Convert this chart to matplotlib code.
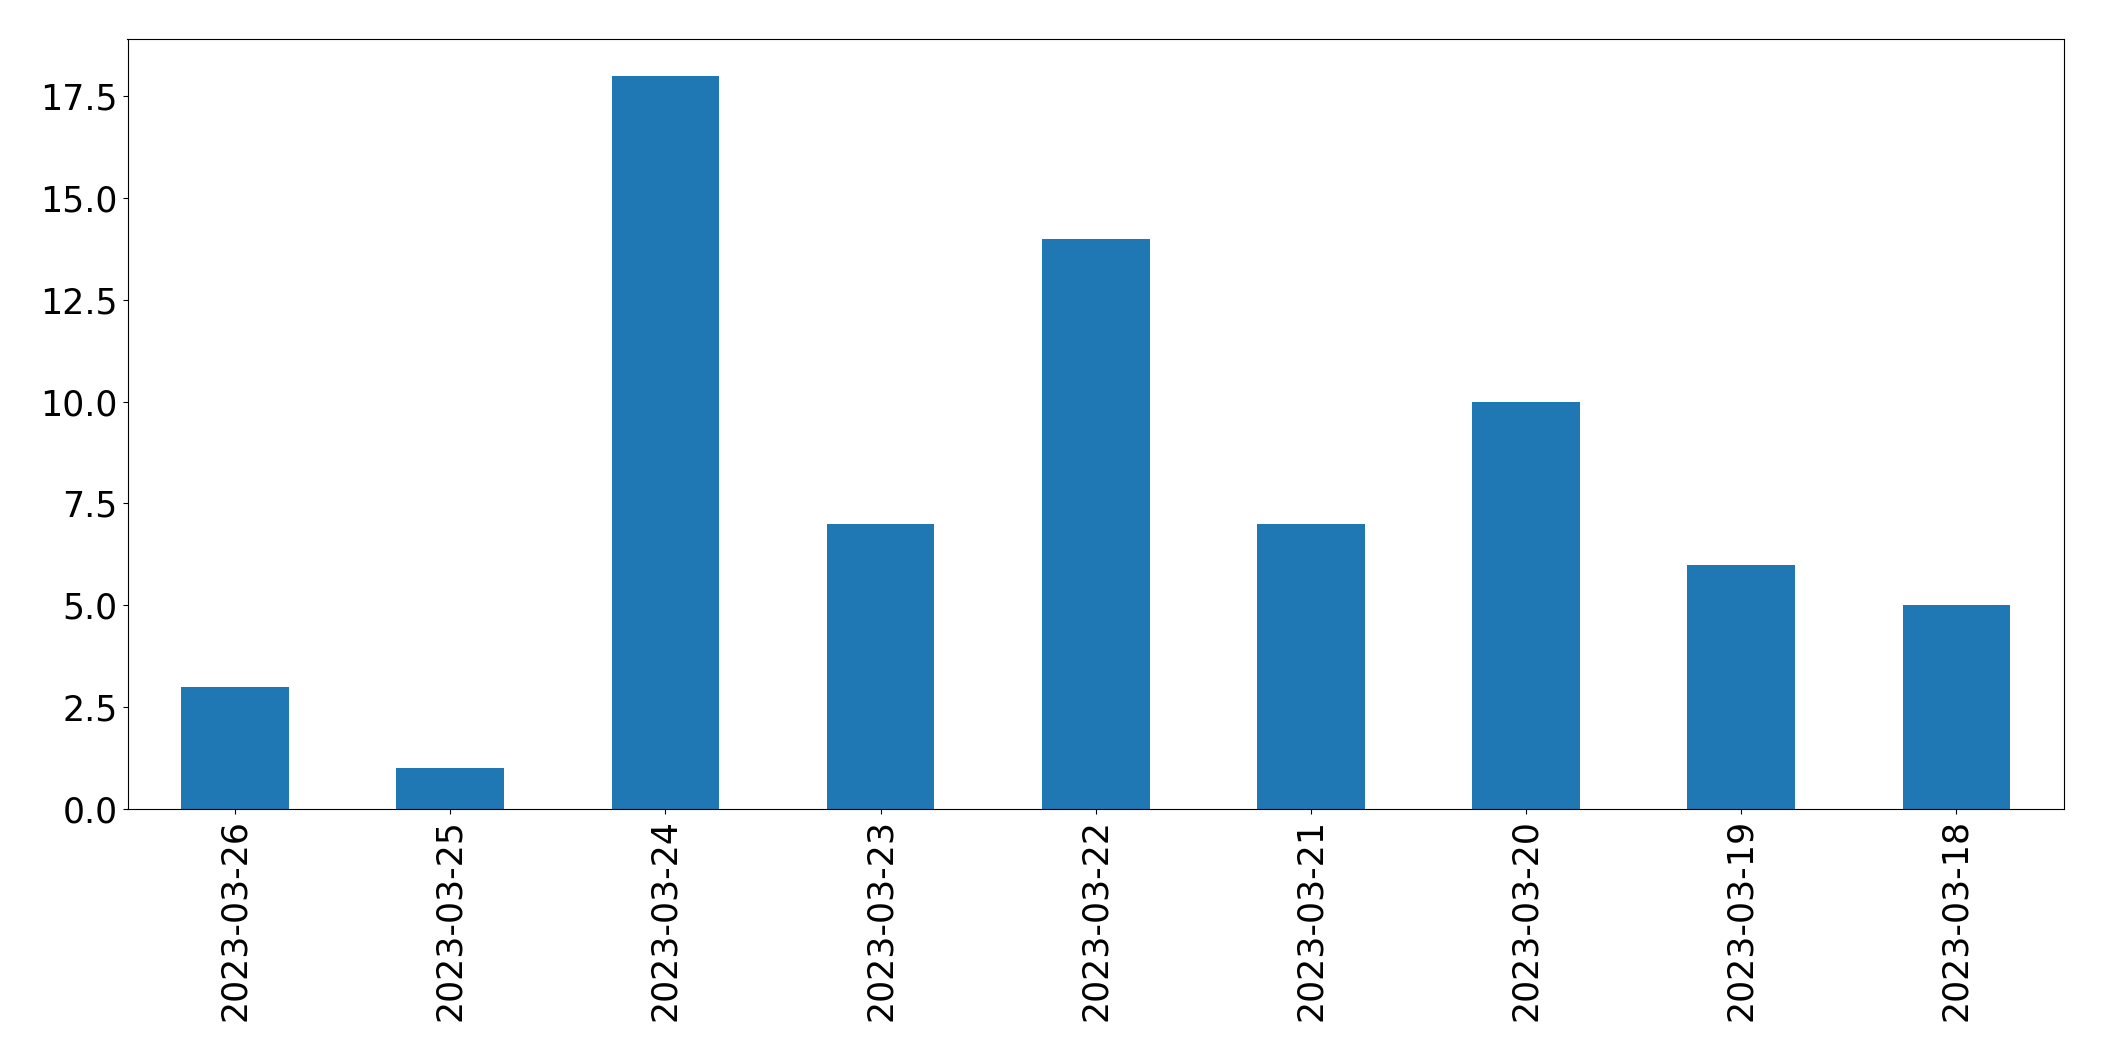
import matplotlib
matplotlib.use("Agg")
import matplotlib.pyplot as plt
import numpy as np

dates = ["2023-03-26", "2023-03-25", "2023-03-24", "2023-03-23", "2023-03-22",
         "2023-03-21", "2023-03-20", "2023-03-19", "2023-03-18"]
counts = [3, 1, 18, 7, 14, 7, 10, 6, 5]

fig = plt.figure(figsize=(21.04, 10.61), dpi=100)
ax = fig.add_axes([127.5/2104, 1 - 809/1061, (2064-127.5)/2104, (809-39)/1061])
x = np.arange(len(dates))
ax.bar(x, counts, width=0.5, color="#1f77b4")
ax.set_xlim(-0.5, len(dates) - 0.5)
ax.set_ylim(0, 18.9)
ax.set_yticks(np.arange(0, 18, 2.5))
ax.set_yticklabels([f"{v:.1f}" for v in np.arange(0, 18, 2.5)])
ax.set_xticks(x)
ax.set_xticklabels(dates, rotation=90)
ax.tick_params(labelsize=25)
fig.savefig("out.png", dpi=100)
